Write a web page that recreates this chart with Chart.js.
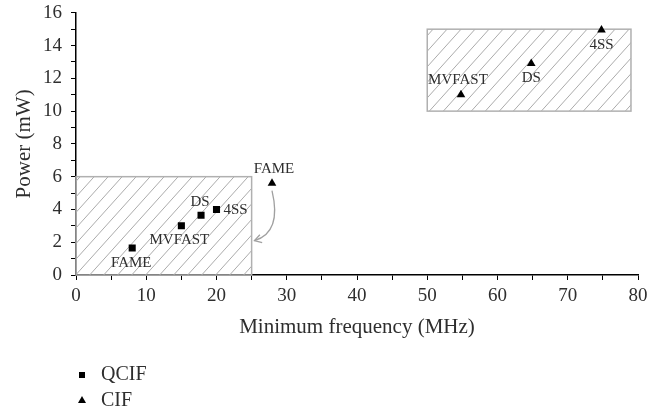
<!DOCTYPE html>
<html>
<head>
<meta charset="utf-8">
<script src="https://cdn.jsdelivr.net/npm/chart.js@4/dist/chart.umd.min.js"></script>
<style>
  html, body { margin: 0; padding: 0; background: #fff; }
  #wrap { width: 670px; height: 414px; }
</style>
</head>
<body>
<div id="wrap"><canvas id="powerChart"></canvas></div>
<script>
// ---- data ----
const seriesNames = ["QCIF", "CIF"];
const qcifFreq = [8, 15, 17.8, 20];
const qcifPower = [1.65, 3.0, 3.65, 4.0];
const qcifLabels = ["FAME", "MVFAST", "DS", "4SS"];
const cifFreq = [27.9, 54.8, 64.8, 74.8];
const cifPower = [5.6, 11.0, 12.9, 14.95];
const cifLabels = ["FAME", "MVFAST", "DS", "4SS"];
// hatched regions: [xMin, xMax, yMin, yMax]
const qcifRegion = [0, 25, 0, 6];
const cifRegion = [50, 79, 10, 15];
// curved arrow from CIF FAME back to the QCIF region: [x, y] start, end
const arrowFrom = [27.9, 5.15];
const arrowTo = [25.4, 2.1];
// axis ticks
const xTickLabels = [0, 10, 20, 30, 40, 50, 60, 70, 80];
const yTickLabels = [0, 2, 4, 6, 8, 10, 12, 14, 16];

const FONT = "'Liberation Serif', 'DejaVu Serif', serif";
const TEXT = "#2e2e2e";

// ============== plugins ==============
const hatchPlugin = {
  id: "hatch",
  beforeDatasetsDraw(chart) {
    const { ctx, scales: { x, y } } = chart;
    [qcifRegion, cifRegion].forEach(r => {
      const l = x.getPixelForValue(r[0]), rt = x.getPixelForValue(r[1]);
      const t = y.getPixelForValue(r[3]), b = y.getPixelForValue(r[2]);
      ctx.save();
      ctx.beginPath();
      ctx.rect(l, t, rt - l, b - t);
      ctx.clip();
      ctx.strokeStyle = "#ababab";
      ctx.lineWidth = 1;
      const h = b - t;
      for (let sx = l - h; sx < rt + 14; sx += 14) {
        ctx.beginPath();
        ctx.moveTo(sx, b);
        ctx.lineTo(sx + h * 0.9, t);
        ctx.stroke();
      }
      ctx.restore();
      ctx.save();
      ctx.strokeStyle = "#b0b0b0";
      ctx.lineWidth = 1.5;
      ctx.strokeRect(l, t, rt - l, b - t);
      ctx.restore();
    });

    // curved arrow
    const x0 = x.getPixelForValue(arrowFrom[0]), y0 = y.getPixelForValue(arrowFrom[1]);
    const x1 = x.getPixelForValue(arrowTo[0]), y1 = y.getPixelForValue(arrowTo[1]);
    const cx = x0 + 10, cy = y1 - 8;
    ctx.save();
    ctx.strokeStyle = "#a0a0a0";
    ctx.lineWidth = 1.3;
    ctx.beginPath();
    ctx.moveTo(x0, y0);
    ctx.quadraticCurveTo(cx, cy, x1, y1);
    ctx.stroke();
    const ang = Math.atan2(y1 - cy, x1 - cx);
    ctx.beginPath();
    ctx.moveTo(x1 + 8 * Math.cos(ang + 2.6), y1 + 8 * Math.sin(ang + 2.6));
    ctx.lineTo(x1, y1);
    ctx.lineTo(x1 + 8 * Math.cos(ang - 2.6), y1 + 8 * Math.sin(ang - 2.6));
    ctx.stroke();
    ctx.restore();
  }
};

// label placement relative to the point: [dx, dy, align]
const qcifPlace = [[-1, 15, "center"], [-2, 14, "center"], [-1, -13, "center"], [7, 1, "left"]];
const cifPlace = [[2, -14, "center"], [-3, -15, "center"], [0, 14, "center"], [0, 15, "center"]];

const pointLabelPlugin = {
  id: "pointLabels",
  afterDatasetsDraw(chart) {
    const { ctx } = chart;
    ctx.save();
    ctx.font = "15px " + FONT;
    ctx.fillStyle = TEXT;
    ctx.textBaseline = "middle";
    [[0, qcifLabels, qcifPlace], [1, cifLabels, cifPlace]].forEach(([di, labels, place]) => {
      chart.getDatasetMeta(di).data.forEach((pt, i) => {
        ctx.textAlign = place[i][2];
        ctx.fillText(labels[i], pt.x + place[i][0], pt.y + place[i][1]);
      });
    });
    ctx.restore();
  }
};

const legendPlugin = {
  id: "stackedLegend",
  afterDraw(chart) {
    const { ctx } = chart;
    ctx.save();
    ctx.fillStyle = "#000";
    // square
    ctx.fillRect(79, 372, 6, 6);
    // triangle
    ctx.beginPath();
    ctx.moveTo(82, 396);
    ctx.lineTo(86, 403);
    ctx.lineTo(78, 403);
    ctx.closePath();
    ctx.fill();
    ctx.font = "20px " + FONT;
    ctx.fillStyle = TEXT;
    ctx.textBaseline = "middle";
    ctx.textAlign = "left";
    ctx.fillText(seriesNames[0], 101, 375);
    ctx.fillText(seriesNames[1], 101, 401);
    ctx.restore();
  }
};

// ============== chart ==============
new Chart(document.getElementById("powerChart"), {
  type: "scatter",
  data: {
    datasets: [
      {
        label: seriesNames[0],
        data: qcifFreq.map((f, i) => ({ x: f, y: qcifPower[i] })),
        pointStyle: "rect",
        pointRadius: 5,
        backgroundColor: "#000",
        borderColor: "#000",
        borderWidth: 0
      },
      {
        label: seriesNames[1],
        data: cifFreq.map((f, i) => ({ x: f, y: cifPower[i] })),
        pointStyle: "triangle",
        pointRadius: 5,
        backgroundColor: "#000",
        borderColor: "#000",
        borderWidth: 0
      }
    ]
  },
  options: {
    responsive: true,
    maintainAspectRatio: false,
    animation: false,
    layout: { padding: { left: 0, right: 32, top: 0, bottom: 74 } },
    plugins: { legend: { display: false }, tooltip: { enabled: false } },
    scales: {
      x: {
        type: "linear",
        min: 0,
        max: 80,
        ticks: {
          stepSize: 5,
          autoSkip: false,
          maxRotation: 0,
          padding: 5,
          color: TEXT,
          font: { family: FONT, size: 19 },
          callback: v => (xTickLabels.includes(v) ? v : "")
        },
        grid: { drawOnChartArea: false, tickLength: 5, color: "#000", lineWidth: 1 },
        border: { color: "#000", width: 1.5 },
        title: {
          display: true,
          text: "Minimum frequency (MHz)",
          color: TEXT,
          font: { family: FONT, size: 21 },
          padding: { top: 2, bottom: 0 }
        }
      },
      y: {
        min: 0,
        max: 16,
        afterFit: s => { s.width = 76; },
        ticks: {
          stepSize: 1,
          autoSkip: false,
          padding: 9,
          color: TEXT,
          font: { family: FONT, size: 19, lineHeight: 0.4 },
          callback: v => (yTickLabels.includes(v) ? v : "")
        },
        grid: { drawOnChartArea: false, tickLength: 5, color: "#000", lineWidth: 1 },
        border: { color: "#000", width: 1.5 },
        title: {
          display: true,
          text: "Power (mW)",
          color: TEXT,
          font: { family: FONT, size: 21 },
          padding: { top: 12, bottom: 0 }
        }
      }
    }
  },
  plugins: [hatchPlugin, pointLabelPlugin, legendPlugin]
});
</script>
</body>
</html>
